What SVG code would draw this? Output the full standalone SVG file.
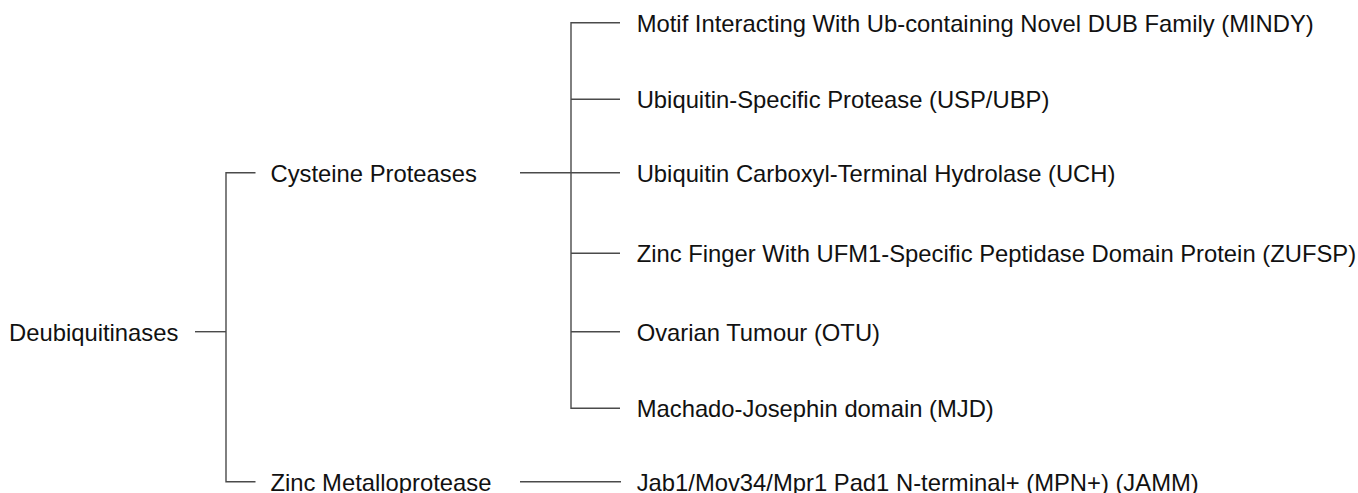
<svg xmlns="http://www.w3.org/2000/svg" width="1358" height="493" viewBox="0 0 1358 493">
<style>
text{font-family:"Liberation Sans",Arial,sans-serif;font-size:23.8px;fill:#111;}
.c line,.c path{stroke:#4a4a4a;stroke-width:1.4;fill:none;}
</style>
<rect width="1358" height="493" fill="#fff"/>
<g class="c" id="connectors">
<line x1="195" y1="331.7" x2="226" y2="331.7"/>
<path d="M255.5 172.7H226V481.7H255.5"/>
<line x1="520" y1="172.7" x2="620" y2="172.7"/>
<path d="M620 22.7H571V408.3H620"/>
<line x1="571" y1="99.3" x2="620" y2="99.3"/>
<line x1="571" y1="253.3" x2="620" y2="253.3"/>
<line x1="571" y1="331.7" x2="620" y2="331.7"/>
<line x1="520" y1="481.7" x2="621" y2="481.7"/>
</g>
<g id="n-deub"><text x="9" y="340.5">Deubiquitinases</text></g>
<g id="n-cys"><text x="270.5" y="181.5">Cysteine Proteases</text></g>
<g id="n-zinc"><text x="270.5" y="490.5">Zinc Metalloprotease</text></g>
<g id="n-mindy"><text x="636.7" y="31.5">Motif Interacting With Ub-containing Novel DUB Family (MINDY)</text></g>
<g id="n-usp"><text x="636.7" y="108">Ubiquitin-Specific Protease (USP/UBP)</text></g>
<g id="n-uch"><text x="636.7" y="181.5">Ubiquitin Carboxyl-Terminal Hydrolase (UCH)</text></g>
<g id="n-zufsp"><text x="636.7" y="262">Zinc Finger With UFM1-Specific Peptidase Domain Protein (ZUFSP)</text></g>
<g id="n-otu"><text x="636.7" y="340.5">Ovarian Tumour (OTU)</text></g>
<g id="n-mjd"><text x="636.7" y="417">Machado-Josephin domain (MJD)</text></g>
<g id="n-jamm"><text x="636.7" y="490.5">Jab1/Mov34/Mpr1 Pad1 N-terminal+ (MPN+) (JAMM)</text></g>
</svg>
